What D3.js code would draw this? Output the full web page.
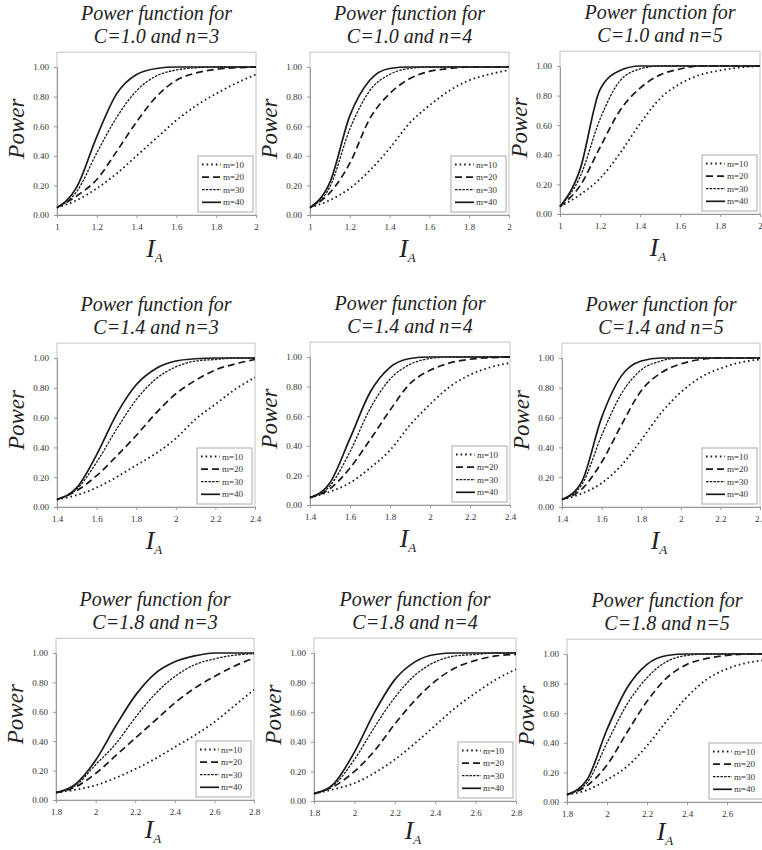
<!DOCTYPE html>
<html>
<head>
<meta charset="UTF-8">
<title>Power functions</title>
<script src="https://d3js.org/d3.v7.min.js"></script>
<style>
  body { margin: 0; background: #fff; }
  svg text { font-family: 'Liberation Serif', serif; }
  .title, .ylab, .xlab { font-style: italic; fill: #222; }
  .title { font-size: 20px; }
  .ylab { font-size: 23px; }
  .axis text { font-size: 9px; fill: #333; }
  .axis path, .axis line { stroke: #999; }
  .legend text { font-size: 9px; fill: #333; }
</style>
</head>
<body>
<script>
// grid of panels: rows by C, columns by n
var cValues = [1.0, 1.4, 1.8];
var nValues = [3, 4, 5];
var mValues = [10, 20, 30, 40];

// I_A sample points for each C
var iA_C10 = [1.0, 1.1, 1.2, 1.3, 1.4, 1.5, 1.6, 1.7, 1.8, 1.9, 2.0];
var iA_C14 = [1.4, 1.5, 1.6, 1.7, 1.8, 1.9, 2.0, 2.1, 2.2, 2.3, 2.4];
var iA_C18 = [1.8, 1.9, 2.0, 2.1, 2.2, 2.3, 2.4, 2.5, 2.6, 2.7, 2.8];

// x tick values per C
var xTicks_C10 = [1, 1.2, 1.4, 1.6, 1.8, 2];
var xTicks_C14 = [1.4, 1.6, 1.8, 2, 2.2, 2.4];
var xTicks_C18 = [1.8, 2, 2.2, 2.4, 2.6, 2.8];
var yTicks = [0, 0.2, 0.4, 0.6, 0.8, 1.0];

// power values, one row per m (10, 20, 30, 40)
var power_C10_n3 = [
  [0.05, 0.10, 0.18, 0.28, 0.40, 0.52, 0.64, 0.74, 0.82, 0.89, 0.95],
  [0.05, 0.13, 0.24, 0.43, 0.63, 0.80, 0.91, 0.96, 0.985, 0.995, 1.0],
  [0.05, 0.16, 0.42, 0.66, 0.84, 0.94, 0.98, 0.995, 1.0, 1.0, 1.0],
  [0.05, 0.19, 0.53, 0.82, 0.95, 0.99, 1.0, 1.0, 1.0, 1.0, 1.0]
];
var power_C10_n4 = [
  [0.05, 0.10, 0.18, 0.30, 0.45, 0.62, 0.74, 0.84, 0.91, 0.95, 0.98],
  [0.05, 0.15, 0.35, 0.65, 0.82, 0.92, 0.97, 0.99, 1.0, 1.0, 1.0],
  [0.05, 0.19, 0.58, 0.84, 0.95, 0.99, 1.0, 1.0, 1.0, 1.0, 1.0],
  [0.05, 0.22, 0.67, 0.91, 0.99, 1.0, 1.0, 1.0, 1.0, 1.0, 1.0]
];
var power_C10_n5 = [
  [0.05, 0.13, 0.24, 0.41, 0.61, 0.78, 0.88, 0.94, 0.97, 0.99, 1.0],
  [0.05, 0.19, 0.45, 0.70, 0.85, 0.94, 0.98, 1.0, 1.0, 1.0, 1.0],
  [0.05, 0.25, 0.64, 0.90, 0.98, 1.0, 1.0, 1.0, 1.0, 1.0, 1.0],
  [0.05, 0.30, 0.84, 0.97, 1.0, 1.0, 1.0, 1.0, 1.0, 1.0, 1.0]
];
var power_C14_n3 = [
  [0.05, 0.08, 0.13, 0.20, 0.28, 0.36, 0.46, 0.59, 0.69, 0.79, 0.87],
  [0.05, 0.11, 0.21, 0.34, 0.48, 0.63, 0.76, 0.85, 0.92, 0.96, 0.99],
  [0.05, 0.12, 0.30, 0.52, 0.72, 0.86, 0.94, 0.98, 0.99, 1.0, 1.0],
  [0.05, 0.13, 0.35, 0.62, 0.82, 0.93, 0.98, 0.995, 1.0, 1.0, 1.0]
];
var power_C14_n4 = [
  [0.05, 0.09, 0.15, 0.25, 0.37, 0.54, 0.68, 0.80, 0.88, 0.93, 0.96],
  [0.05, 0.11, 0.25, 0.44, 0.64, 0.82, 0.91, 0.96, 0.985, 0.995, 1.0],
  [0.05, 0.13, 0.36, 0.65, 0.85, 0.95, 0.99, 1.0, 1.0, 1.0, 1.0],
  [0.05, 0.15, 0.45, 0.76, 0.93, 0.99, 1.0, 1.0, 1.0, 1.0, 1.0]
];
var power_C14_n5 = [
  [0.05, 0.09, 0.16, 0.28, 0.45, 0.63, 0.77, 0.87, 0.93, 0.97, 0.99],
  [0.05, 0.12, 0.30, 0.55, 0.78, 0.90, 0.96, 0.99, 1.0, 1.0, 1.0],
  [0.05, 0.15, 0.48, 0.76, 0.92, 0.98, 1.0, 1.0, 1.0, 1.0, 1.0],
  [0.05, 0.17, 0.60, 0.88, 0.98, 1.0, 1.0, 1.0, 1.0, 1.0, 1.0]
];
var power_C18_n3 = [
  [0.05, 0.07, 0.10, 0.15, 0.21, 0.28, 0.36, 0.44, 0.53, 0.64, 0.75],
  [0.05, 0.09, 0.18, 0.30, 0.42, 0.54, 0.66, 0.76, 0.84, 0.91, 0.965],
  [0.05, 0.10, 0.24, 0.38, 0.56, 0.72, 0.84, 0.92, 0.96, 0.985, 0.995],
  [0.05, 0.11, 0.27, 0.50, 0.71, 0.86, 0.94, 0.98, 1.0, 1.0, 1.0]
];
var power_C18_n4 = [
  [0.05, 0.08, 0.12, 0.19, 0.28, 0.39, 0.51, 0.63, 0.73, 0.82, 0.89],
  [0.05, 0.10, 0.20, 0.34, 0.52, 0.68, 0.81, 0.90, 0.95, 0.98, 0.99],
  [0.05, 0.11, 0.28, 0.50, 0.70, 0.85, 0.94, 0.98, 0.99, 1.0, 1.0],
  [0.05, 0.12, 0.33, 0.60, 0.82, 0.94, 0.99, 1.0, 1.0, 1.0, 1.0]
];
var power_C18_n5 = [
  [0.05, 0.08, 0.15, 0.24, 0.38, 0.55, 0.71, 0.83, 0.90, 0.94, 0.96],
  [0.05, 0.11, 0.25, 0.47, 0.68, 0.84, 0.93, 0.97, 0.99, 1.0, 1.0],
  [0.05, 0.13, 0.40, 0.66, 0.84, 0.95, 0.99, 1.0, 1.0, 1.0, 1.0],
  [0.05, 0.15, 0.49, 0.77, 0.93, 0.99, 1.0, 1.0, 1.0, 1.0, 1.0]
];

var panelData = [
  [power_C10_n3, power_C10_n4, power_C10_n5],
  [power_C14_n3, power_C14_n4, power_C14_n5],
  [power_C18_n3, power_C18_n4, power_C18_n5]
];
var iAByRow = [iA_C10, iA_C14, iA_C18];
var xTicksByRow = [xTicks_C10, xTicks_C14, xTicks_C18];

// frame placement of each panel: left, right, y of 1.00, y of 0.00
var frames = [
  [[57, 256, 67, 215], [310, 509, 67, 215], [560, 760, 66, 214]],
  [[57, 255, 358, 507], [310, 510, 357, 505], [562, 760, 358, 507]],
  [[56, 254, 653, 800], [314, 516, 653, 801], [567, 767, 654, 802]]
];
var xLabelGap = [42, 42, 38];

// line styles per m
var dashes = ["1.6,3", "7,4", "2.5,1.2", null];
var widths = [1.8, 1.7, 1.3, 1.7];
var SERIF = "'Liberation Serif', serif";

var svg = d3.select("body").append("svg")
    .attr("width", 762)
    .attr("height", 850);

svg.append("rect").attr("width", 762).attr("height", 850).attr("fill", "#fff");

cValues.forEach(function (C, r) {
  nValues.forEach(function (n, c) {
    var f = frames[r][c];
    var left = f[0], right = f[1], y1 = f[2], y0 = f[3];
    var xs = iAByRow[r];

    var x = d3.scaleLinear().domain(d3.extent(xs)).range([left, right]);
    var y = d3.scaleLinear().domain([0, 1]).range([y0, y1]);
    var top = y(1.1);

    var g = svg.append("g");

    // plot frame
    g.append("rect")
        .attr("x", left).attr("y", top)
        .attr("width", right - left).attr("height", y0 - top)
        .attr("fill", "none")
        .attr("stroke", "#c4c4c4");

    // axes
    var ya = g.append("g")
        .attr("class", "axis")
        .attr("transform", "translate(" + left + ",0)")
        .call(d3.axisLeft(y).tickValues(yTicks).tickFormat(d3.format(".2f"))
          .tickSize(3).tickSizeOuter(0).tickPadding(5));
    var xa = g.append("g")
        .attr("class", "axis")
        .attr("transform", "translate(0," + y0 + ")")
        .call(d3.axisBottom(x).tickValues(xTicksByRow[r])
          .tickFormat(function (d) { return String(+d.toFixed(1)); })
          .tickSize(3).tickSizeOuter(0).tickPadding(6));
    ya.attr("font-family", SERIF);
    xa.attr("font-family", SERIF);

    // curves
    var line = d3.line()
        .x(function (d, i) { return x(xs[i]); })
        .y(function (d) { return y(d); })
        .curve(d3.curveMonotoneX);

    panelData[r][c].forEach(function (vals, k) {
      g.append("path")
          .datum(vals)
          .attr("d", line)
          .attr("fill", "none")
          .attr("stroke", "#1a1a1a")
          .attr("stroke-width", widths[k])
          .attr("stroke-dasharray", dashes[k]);
    });

    // titles
    var cx = (left + right) / 2;
    g.append("text").attr("class", "title")
        .attr("x", cx).attr("y", top - 32)
        .attr("text-anchor", "middle")
        .style("font-family", SERIF)
        .text("Power function for");
    g.append("text").attr("class", "title")
        .attr("x", cx).attr("y", top - 9)
        .attr("text-anchor", "middle")
        .style("font-family", SERIF)
        .text("C=" + C.toFixed(1) + " and n=" + n);

    // y label
    g.append("text").attr("class", "ylab")
        .attr("transform", "translate(" + (left - 33) + "," + ((top + y0) / 2 - 5) + ") rotate(-90)")
        .attr("text-anchor", "middle")
        .style("font-family", SERIF)
        .text("Power");

    // x label I_A
    var xl = g.append("text").attr("class", "xlab")
        .attr("x", cx - 2).attr("y", y0 + xLabelGap[r])
        .attr("text-anchor", "middle")
        .style("font-family", SERIF)
        .style("font-size", "26px");
    xl.append("tspan").text("I");
    xl.append("tspan").attr("dy", 5).style("font-size", "13px").text("A");

    // legend
    var lw = 55, lh = 56;
    var lx = right - 3 - lw, ly = y0 - 3 - lh;
    var lg = g.append("g").attr("class", "legend");
    lg.append("rect")
        .attr("x", lx).attr("y", ly)
        .attr("width", lw).attr("height", lh)
        .attr("fill", "#fff")
        .attr("stroke", "#aaa");
    mValues.forEach(function (m, k) {
      var yy = ly + 8.5 + k * 12.6;
      lg.append("line")
          .attr("x1", lx + 4).attr("x2", lx + 23)
          .attr("y1", yy).attr("y2", yy)
          .attr("stroke", "#1a1a1a")
          .attr("stroke-width", widths[k])
          .attr("stroke-dasharray", dashes[k]);
      lg.append("text")
          .attr("x", lx + 25).attr("y", yy + 3)
          .style("font-family", SERIF)
          .text("m=" + m);
    });
  });
});
</script>
</body>
</html>
